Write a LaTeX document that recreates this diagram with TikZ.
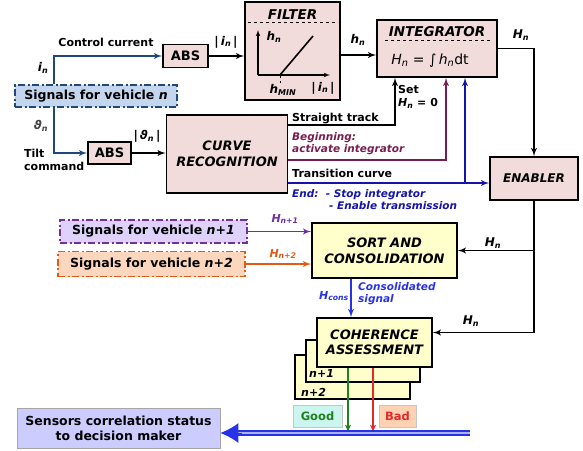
\documentclass[tikz,border=0pt]{standalone}
\usepackage{fontspec}
\setmainfont{DejaVu Sans}
\usepackage{tikz}
\usetikzlibrary{arrows}
\usetikzlibrary{arrows.meta}
\usetikzlibrary{positioning}
\definecolor{mpink}{RGB}{242,220,219}
\definecolor{myellow}{RGB}{255,255,204}
\definecolor{mnavy}{RGB}{31,73,125}
\definecolor{mskyblue}{RGB}{196,214,238}
\definecolor{mpurple}{RGB}{112,48,160}
\definecolor{mlavender}{RGB}{222,210,250}
\definecolor{morange}{RGB}{228,90,20}
\definecolor{mpeach}{RGB}{252,215,190}
\definecolor{mmaroon}{RGB}{122,28,78}
\definecolor{mdarkblue}{RGB}{20,20,170}
\definecolor{mbusblue}{RGB}{40,50,230}
\definecolor{mgap}{RGB}{170,180,250}
\definecolor{mgreen}{RGB}{30,130,30}
\definecolor{mred}{RGB}{230,40,40}
\definecolor{mgoodfill}{RGB}{204,245,240}
\definecolor{mbadfill}{RGB}{255,210,180}
\definecolor{msensor}{RGB}{204,204,255}
\newcommand\fsz[2]{\fontsize{#1}{#2}\selectfont\bfseries}
\newcommand\vsym[2]{\textit{#1}\textsubscript{\textit{#2}}}
\tikzset{box/.style = {draw, line width=1.6pt, fill=mpink, inner sep=0pt, align=center},
         ybox/.style = {box, fill=myellow},
         ttl/.style = {font=\fsz{13.5}{15}\itshape, inner sep=0pt, align=center},
         sigbox/.style = {draw, line width=1.9pt, dash pattern=on 7pt off 2.5pt on 2pt off 2.5pt,
                          inner sep=0pt, font=\fsz{12.5}{14}},
         lab/.style = {font=\fsz{10.5}{12.5}, inner sep=0pt, align=left},
         wire/.style = {line width=1.8pt},
         tag/.style = {draw=gray!45, line width=0.7pt, inner sep=0pt, font=\fsz{11.5}{13}}}

\begin{document}
\begin{tikzpicture}[x=1pt, y=-1pt, font=\bfseries, >=latex']
    \useasboundingbox (0,0) rectangle (583,450);

    \node [sigbox, draw=mnavy, fill=mskyblue, minimum width=162pt, minimum height=22pt] (sigN) at (96,96) {Signals for vehicle \textit{n}};
    \node [box, minimum width=45pt, minimum height=23pt, font=\fsz{13}{15}] (absI) at (185.5,56) {ABS};
    \node [box, minimum width=43pt, minimum height=22pt, font=\fsz{13}{15}] (absT) at (109.5,153) {ABS};
    \node [box, minimum width=95pt, minimum height=98pt] (filter) at (292.5,51) {};
    \node [box, minimum width=120pt, minimum height=57pt] (integ) at (437,48.5) {};
    \node [box, minimum width=121pt, minimum height=78pt, font=\fsz{13}{16}\itshape] (curve) at (227,154) {CURVE\\RECOGNITION};
    \node [box, minimum width=88pt, minimum height=43pt, font=\fsz{12}{14}\itshape] (enabler) at (534,178.5) {ENABLER};
    \node [ybox, minimum width=145pt, minimum height=55pt, font=\fsz{13}{16}\itshape] (sort) at (384.5,250.5) {SORT AND\\CONSOLIDATION};
    \node [sigbox, draw=mpurple, fill=mlavender, minimum width=187pt, minimum height=23pt] (sigA) at (153.5,231.5) {Signals for vehicle \textit{n+1}};
    \node [sigbox, draw=morange, fill=mpeach, minimum width=187pt, minimum height=25pt] (sigB) at (151.5,264) {Signals for vehicle \textit{n+2}};
    \node [ybox, minimum width=115pt, minimum height=44pt] (cohC) at (352.5,377) {};
    \node [ybox, minimum width=114pt, minimum height=42pt] (cohB) at (363,361) {};
    \node [ybox, minimum width=115pt, minimum height=49pt, font=\fsz{13}{15}\itshape] (cohA) at (374.5,342.5) {COHERENCE\\ASSESSMENT};
    \node [tag, fill=mgoodfill, text=mgreen, minimum width=49pt, minimum height=22pt] (good) at (317.5,416) {Good};
    \node [tag, fill=mbadfill, text=mred, minimum width=37pt, minimum height=22pt] (bad) at (397.5,416) {Bad};
    \node [draw=gray!70, line width=0.9pt, fill=msensor, minimum width=203pt, minimum height=40pt, inner sep=0pt,
           align=center, font=\fsz{12.5}{15}] (sensors) at (118.5,428) {Sensors correlation status\\to decision maker};

    \node [ttl, anchor=base] (filterT) at (292.5,19) {FILTER};
    \draw [dashed, line width=1pt] (248,22) -- (338,22);
    \draw [->, line width=1.1pt] (258,75) -- (258,30);
    \draw [->, line width=1.1pt] (258,75) -- (330,75);
    \draw [line width=1.6pt] (258,75) -- (280,75) -- (313,36);
    \draw [dashed, line width=0.7pt] (280,75) -- (280,83);
    \node [lab, font=\fsz{12}{14}] (fh) at (274,37) {\vsym{h}{n}};
    \node [lab, font=\fsz{12}{14}] (fmin) at (283,90) {\vsym{h}{MIN}};
    \node [lab, font=\fsz{12}{14}] (fi) at (323,88) {|\,\vsym{i}{n}\,|};

    \node [ttl, anchor=base] (integT) at (437,36) {INTEGRATOR};
    \draw [dashed, line width=1pt] (385,40) -- (490,40);
    \node [inner sep=0pt, anchor=base, font=\fontsize{14}{16}\selectfont\mdseries] (integF) at (430,64) {\vsym{H}{n} = ∫\,\vsym{h}{n}dt};

    \draw [wire, mnavy, ->] ([xshift=40pt]sigN.north west) |- (absI.west);
    \draw [wire, mnavy, ->] ([xshift=40pt]sigN.south west) |- (absT.west);
    \node [lab, font=\fsz{11}{13}, anchor=south] at (106,47) {Control current};
    \node [lab, font=\fsz{12}{14}] at (43,68) {\vsym{i}{n}};
    \node [lab, font=\fsz{12}{14}, text=black!75] at (41,126) {\vsym{ϑ}{n}};
    \node [lab, font=\fsz{11}{13}, anchor=west] at (24,160) {Tilt\\command};

    \draw [wire, ->] (absI.east) -- (filter.west |- absI.east);
    \node [lab, font=\fsz{12}{14}] at (226,42) {|\,\vsym{i}{n}\,|};
    \draw [wire, ->] (absT.east) -- (curve.west |- absT.east);
    \node [lab, font=\fsz{12}{14}] at (147,136) {|\,\vsym{ϑ}{n}\,|};
    \draw [wire, ->] (filter.east |- 0,55) -- (integ.west |- 0,55);
    \node [lab, font=\fsz{12}{14}] at (358,40) {\vsym{h}{n}};
    \draw [wire, ->] (integ.east) -| (enabler.north);
    \node [lab, font=\fsz{12}{14}] at (521,35) {\vsym{H}{n}};

    \draw [wire, ->] (curve.east |- 0,125) -| (integ.south -| 395,0);
    \node [lab, font=\fsz{11}{13}, anchor=base west] at (292,121) {Straight track};
    \node [lab, font=\fsz{11}{13}, anchor=north west] at (398,85) {Set\\\vsym{H}{n} = 0};
    \draw [wire, mmaroon, ->] (curve.east |- 0,160) -| (integ.south -| 446,0);
    \node [lab, anchor=north west, text=mmaroon, font=\fsz{10.5}{12.5}\itshape] at (292,132) {Beginning:\\activate integrator};
    \draw [wire, mdarkblue, ->] (curve.east |- 0,183) -- (enabler.west |- 0,183);
    \draw [wire, mdarkblue, ->] (465,183) -- (integ.south -| 465,0);
    \node [lab, font=\fsz{11}{13}, anchor=base west] at (292,177) {Transition curve};
    \node [lab, anchor=base west, text=mdarkblue, font=\fsz{10.5}{12.5}\itshape] at (292,197) {End:\ \ - Stop integrator};
    \node [lab, anchor=base west, text=mdarkblue, font=\fsz{10.5}{12.5}\itshape] at (329,209) {- Enable transmission};

    \draw [wire, ->] (enabler.south) |- ([yshift=10pt]cohA.east);
    \draw [wire, ->] (enabler.south |- sort.east) -- (sort.east);
    \node [lab, font=\fsz{12}{14}] at (493,243) {\vsym{H}{n}};
    \node [lab, font=\fsz{12}{14}] at (471,321) {\vsym{H}{n}};

    \draw [wire, mpurple, ->] (sigA.east) -- (sort.west |- sigA.east);
    \node [lab, text=mpurple, font=\fsz{11}{13}] at (285,219) {\vsym{H}{n+1}};
    \draw [wire, morange, ->] (sigB.east) -- (sort.west |- sigB.east);
    \node [lab, text=morange, font=\fsz{11}{13}] at (283,254) {\vsym{H}{n+2}};

    \draw [wire, mbusblue, ->] (sort.south -| 351,0) -- (cohA.north -| 351,0);
    \node [lab, text=mbusblue, font=\fsz{11}{13}, anchor=east] at (349,296) {\vsym{H}{cons}};
    \node [lab, text=mbusblue, font=\fsz{10.5}{12}\itshape, anchor=north west] at (358,282) {Consolidated\\signal};

    \node [lab, font=\fsz{11}{13}\itshape, anchor=west] at (309,373) {n+1};
    \node [lab, font=\fsz{11}{13}\itshape, anchor=west] at (301,392) {n+2};

    \coordinate (busR) at (470,433);
    \coordinate (busL) at (238,433);
    \draw [wire, mgreen, ->] (cohA.south -| 348,0) -- (busR -| 348,0);
    \draw [wire, mred, ->] (cohA.south -| 373,0) -- (busR -| 373,0);
    \draw [mbusblue, line width=2.2pt, double=mgap, double distance=1.6pt] (busR) -- (busL);
    \draw [-{Latex[length=18pt, width=20pt]}, mbusblue, line width=1pt] ([xshift=4pt]busL) -- (sensors.east |- busL);
\end{tikzpicture}
\end{document}
